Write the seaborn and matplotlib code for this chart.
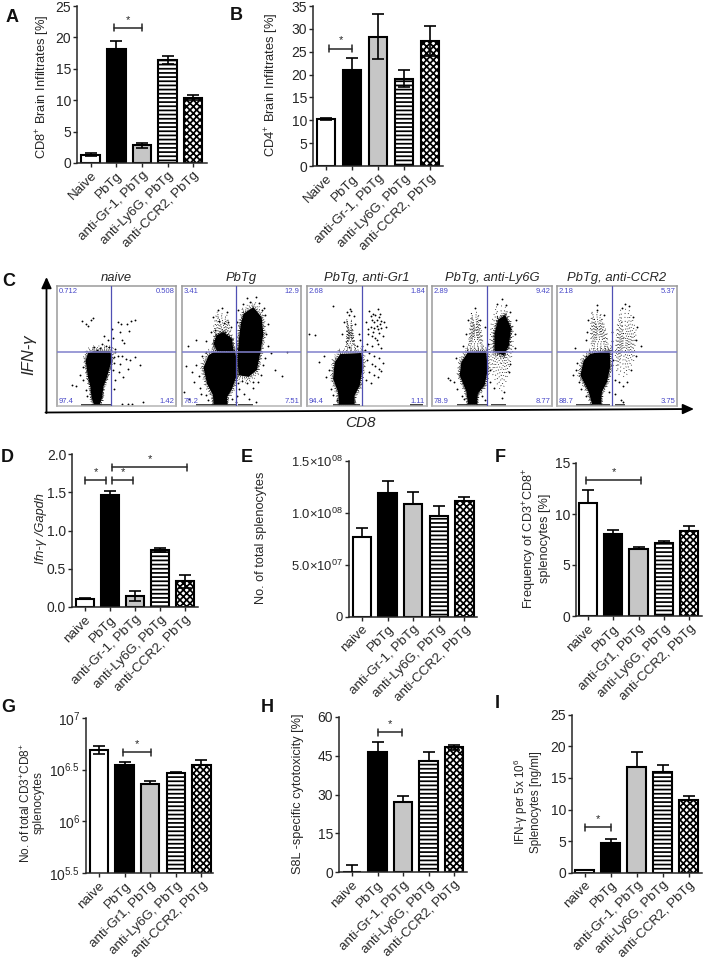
import matplotlib
matplotlib.use("Agg")
import matplotlib.pyplot as plt
import seaborn as sns
import pandas as pd

# ---------- data ----------
GROUPS_A = ["Naive", "PbTg", "anti-Gr-1, PbTg", "anti-Ly6G, PbTg", "anti-CCR2, PbTg"]
GROUPS_D = ["naive", "PbTg", "anti-Gr-1, PbTg", "anti-Ly6G, PbTg", "anti-CCR2, PbTg"]
GROUPS_F = ["naive", "PbTg", "anti-Gr1, PbTg", "anti-Ly6G, PbTg", "anti-CCR2, PbTg"]

a_val = [1.3, 18.1, 2.8, 16.4, 10.4]
a_up = [1.55, 19.4, 3.2, 17.05, 10.9]
a_lo = [1.1, 18.1, 2.4, 15.8, 10.0]
b_val = [10.3, 21.0, 28.3, 19.0, 27.3]
b_up = [10.5, 23.6, 33.2, 20.9, 30.7]
b_lo = [10.1, 18.6, 23.3, 17.2, 24.0]
d_val = [0.11, 1.46, 0.15, 0.745, 0.34]
d_up = [0.12, 1.52, 0.21, 0.775, 0.42]
d_lo = [0.10, 1.40, 0.08, 0.715, 0.25]
e_val = [7.7e7, 1.19e8, 1.09e8, 9.7e7, 1.11e8]
e_up = [8.5e7, 1.31e8, 1.20e8, 1.07e8, 1.15e8]
f_val = [11.1, 8.0, 6.6, 7.2, 8.3]
f_up = [12.4, 8.4, 6.8, 7.4, 8.8]
g_val = [6.69, 6.545, 6.36, 6.47, 6.545]
g_up = [6.73, 6.575, 6.39, 6.48, 6.59]
g_lo = [6.65, 6.545, 6.36, 6.47, 6.545]
h_val = [0.3, 46.6, 27.3, 43.0, 48.3]
h_up = [2.8, 50.3, 29.6, 46.6, 49.2]
h_lo = [-2.2, 46.6, 27.3, 43.0, 47.4]
i_val = [0.35, 4.64, 16.67, 15.9, 11.5]
i_up = [0.4, 5.27, 19.15, 17.1, 12.1]

flow_titles = ["naive", "PbTg", "PbTg, anti-Gr1", "PbTg, anti-Ly6G", "PbTg, anti-CCR2"]
flow_gates = [["0.712", "0.508", "97.4", "1.42"],
              ["3.41", "12.9", "76.2", "7.51"],
              ["2.68", "1.84", "94.4", "1.11"],
              ["2.89", "9.42", "78.9", "8.77"],
              ["2.18", "5.37", "88.7", "3.75"]]

# gated clouds (CD8 %, IFN-g %)
naive_core = [[(31, 46), (45, 46), (46, 38), (42, 24), (39, 16), (38, 7), (36, 1), (31, 1), (29, 7), (28, 16), (26, 24), (24, 38), (26, 44)]]
naive_soft = []
naive_pts = [(21, 70.5), (24.6, 68.6), (28.6, 71.4), (30, 73.6), (25.8, 66.7), (51, 70), (53.8, 68.6), (58.8, 68.6), (62, 70.5), (65.8, 71.4),
             (60.5, 62.5), (53, 62), (54.6, 54.7), (56.6, 52.5), (46, 64.4), (39.2, 58), (42.6, 54.7), (30.8, 49), (33.6, 47), (36.4, 48.6),
             (41.5, 49.7), (49, 47.8), (51, 42), (54.6, 42), (58, 39.4), (61.6, 38), (65.8, 40.8), (53, 35), (59.4, 31), (69.5, 34.4),
             (52, 28), (55.6, 24), (49, 21.4), (47.6, 14.4), (12.6, 17.2), (16, 16.4), (19.6, 25.6), (21.8, 32.5), (22, 22), (24, 13),
             (25, 8), (47.5, 41), (48, 36), (47, 30), (49, 45), (44, 49), (38, 52), (47, 57), (72, 3), (55, 2), (60, 2), (63, 2)]
naive_base = [(20, 46)]

pbtg_core = [[(26.5, 45), (44.7, 45.5), (46, 38), (45.5, 24), (42, 14), (38, 7.5), (38, 0.5), (26.5, 0.5), (26, 9), (21, 18.5), (18, 32), (22.4, 42.5)],
             [(51.7, 77), (60, 82.5), (67, 74), (68.4, 60), (66, 45), (63, 30), (56, 24.2), (47.5, 25.6), (46.6, 41), (48, 57.5), (49.4, 69)],
             [(29, 59), (35, 61.6), (42, 56), (43.3, 45.8), (29.3, 45.8), (26.5, 52)]]
pbtg_soft = [[(29.3, 78.3), (37.7, 75.6), (43.3, 54.7), (43.3, 45.8), (26.5, 45.8), (26.5, 66)]]
pbtg_pts = [(55, 90), (62, 91), (57, 87), (65, 86), (51, 85), (69, 82), (67, 80), (70, 76), (47, 80), (72, 68),
            (71, 60), (72, 50), (70, 40), (68, 34), (66, 26), (60, 20), (55, 19), (64, 20), (50, 21), (75, 44),
            (78, 30), (84, 25), (88, 45), (60, 15), (48, 14), (52, 10), (56, 6), (62, 3), (12, 34), (14, 25),
            (15, 15), (10, 20), (8, 28), (3, 33), (5, 50), (12, 55), (20, 54), (24, 62), (26, 74), (30, 80),
            (34, 82), (38, 78), (46, 70), (20, 45), (17, 42), (16, 10), (20, 9), (22, 5), (42, 6), (45, 3),
            (46, 8), (49, 32), (47, 19), (2, 12), (6, 6), (31, 71), (35, 69), (28, 63), (41, 66), (39, 70)]
pbtg_base = [(12, 46), (47, 60)]

gr1_core = [[(27.8, 43.4), (45.3, 44.2), (46.7, 33.7), (44, 17), (39.7, 8.8), (39.7, 1), (26.7, 1), (25.8, 11.6), (21.7, 22.7), (23, 36.5)]]
gr1_soft = [[(33, 72), (37, 72), (39, 58), (41, 46), (32, 46), (33, 58)]]
gr1_pts = [(22, 83), (33, 78), (36, 81), (35, 76), (37, 79), (39, 75), (31, 70), (40, 68), (29, 60), (43, 60),
           (52, 79), (54, 72), (57, 76), (60, 74), (64, 70), (56, 70), (59, 81), (61, 77), (58, 67), (62, 65),
           (49, 70), (53, 66), (55, 62), (60, 61), (63, 58), (51, 60), (57, 57), (66, 66), (50, 52), (54, 50),
           (59, 52), (62, 48), (48, 47), (52, 44), (56, 42), (60, 40), (63, 36), (50, 38), (54, 35), (57, 33),
           (60, 31), (62, 29), (52, 28), (56, 26), (59, 24), (49, 22), (53, 19), (18, 30), (16, 24), (14, 42),
           (20, 14), (22, 9), (25, 5), (7, 59), (2, 60), (10, 37), (42, 50), (46, 50), (44, 55), (35, 49),
           (55, 77), (58, 72), (62, 71), (53, 75), (51, 64), (59, 64), (56, 65), (61, 68), (54, 58), (58, 55)]
gr1_base = [(22, 44), (86, 97)]

ly6g_core = [[(30, 45), (45.3, 45.8), (46.4, 29.7), (43.9, 17.2), (38.3, 10.3), (37.5, 1.4), (30, 1.4), (28.6, 11.9), (23, 25.6), (24.4, 36.7)],
             [(55, 72), (61, 76), (66, 65), (64, 50), (60, 42), (52, 45), (52, 60)]]
ly6g_soft = [[(53.6, 82.5), (60.6, 83.9), (67.5, 65.8), (67.5, 46.4), (62, 21.4), (57.8, 11.7), (50.8, 25.6), (47.5, 43.6), (49.4, 68.6)],
             [(32.8, 77), (38.3, 78.3), (42, 57.5), (42.5, 46.4), (30, 46.4), (31.4, 63)]]
ly6g_pts = [(58, 89), (54, 85), (62, 84), (65, 78), (70, 72), (69, 60), (69, 48), (65, 35), (60, 12), (58, 7),
            (52, 15), (48, 20), (30, 72), (28, 60), (26, 50), (20, 40), (15, 22), (18, 20), (13, 23), (36, 82),
            (40, 72), (44, 66), (47, 52), (21, 14), (25, 8), (27, 6), (42, 8), (44, 5), (48, 30), (64, 28)]
ly6g_base = [(21, 46), (49, 62)]

ccr2_core = [[(27.8, 43.6), (44, 46.4), (44.4, 32.5), (41.7, 20), (37.5, 11.7), (36.7, 1.4), (29.2, 1.4), (26.4, 11.7), (19.4, 25.6), (22.2, 38)]]
ccr2_soft = [[(52.8, 79.7), (59.7, 81), (66, 63), (63.9, 38), (57, 24), (50, 27), (48.6, 43.6), (50, 65.8)],
             [(29, 78), (36, 78), (41.7, 60), (43, 46), (29, 46), (27.8, 63)]]
ccr2_pts = [(57, 85), (54, 82), (60, 83), (63, 74), (67, 66), (66, 55), (66, 42), (62, 30), (58, 20), (55, 17),
            (52, 20), (48, 22), (26, 72), (25, 62), (24, 55), (15, 48), (16, 30), (18, 20), (13, 26), (33, 80),
            (39, 76), (46, 62), (46, 54), (20, 14), (24, 8), (43, 12), (48, 10), (53, 5), (55, 3), (46, 34),
            (47, 38), (70, 50), (33, 84), (17, 36), (24, 42)]
ccr2_base = [(16, 44), (48, 57)]

flow_cores = [naive_core, pbtg_core, gr1_core, ly6g_core, ccr2_core]
flow_softs = [naive_soft, pbtg_soft, gr1_soft, ly6g_soft, ccr2_soft]
flow_points = [naive_pts, pbtg_pts, gr1_pts, ly6g_pts, ccr2_pts]
flow_bases = [naive_base, pbtg_base, gr1_base, ly6g_base, ccr2_base]
flow_boxes = [(57, 176), (182, 301), (307, 427), (432, 552), (557, 677)]

# ---------- style ----------
W, H = 704, 959
sns.set_theme(style="ticks")
plt.rcParams["font.family"] = ["Liberation Sans", "DejaVu Sans"]
plt.rcParams["mathtext.fontset"] = "custom"
plt.rcParams["mathtext.rm"] = "Liberation Sans"
plt.rcParams["mathtext.it"] = "Liberation Sans:italic"
plt.rcParams["mathtext.default"] = "regular"
plt.rcParams["hatch.linewidth"] = 1.25
INK = "#262626"
GREY = "#c6c6c6"
BLUE = "#4848c8"

fig = plt.figure(figsize=(W / 100, H / 100), dpi=100, facecolor="white")


def px_axes(left, right, top, bottom, **kw):
    return fig.add_axes([left / W, 1 - bottom / H, (right - left) / W, (bottom - top) / H], **kw)


def bar_panel(box, c0, step, labels, values, upper, lower, ylim, yticks, yticklabels,
              brackets=(), ytick_size=10):
    ax = px_axes(*box)
    frame = pd.DataFrame({"group": labels, "value": values})
    sns.barplot(data=frame, x="group", y="value", color="white", width=0.72, errorbar=None,
                edgecolor="black", linewidth=1.5, ax=ax)
    styles = [("white", None), ("black", None), (GREY, None), ("white", "----"), ("white", "xxxxx")]
    for patch, (face, hatch) in zip(ax.patches, styles):
        patch.set_facecolor(face)
        patch.set_edgecolor("black")
        if hatch:
            patch.set_hatch(hatch)
    lo = lower if lower is not None else values
    err = [[v - l for v, l in zip(values, lo)], [u - v for v, u in zip(values, upper)]]
    ax.errorbar(range(5), values, yerr=err, fmt="none", ecolor="black", elinewidth=1.2,
                capsize=4.6, capthick=1.2, zorder=5)
    ax.set_xlim((box[0] - c0) / step, (box[1] - c0) / step)
    ax.set_ylim(*ylim)
    ax.set_yticks(yticks)
    ax.set_yticklabels(yticklabels, fontsize=ytick_size, color=INK)
    ax.set_xlabel("")
    ax.set_ylabel("")
    ax.tick_params(axis="x", length=3.2, width=1, pad=1.5, labelsize=9.6, labelcolor=INK, color=INK)
    ax.tick_params(axis="y", length=3.2, width=1, pad=1, color=INK)
    plt.setp(ax.get_xticklabels(), rotation=45, ha="right", rotation_mode="anchor")
    for side in ("top", "right"):
        ax.spines[side].set_visible(False)
    for side in ("left", "bottom"):
        ax.spines[side].set_linewidth(1.1)
        ax.spines[side].set_color(INK)
    ax.patch.set_alpha(0)
    for x0, x1, y in brackets:
        trans = ax.get_xaxis_transform()
        yfrac = (y - ylim[0]) / (ylim[1] - ylim[0])
        tip = 3.5 / (box[3] - box[2])
        ax.plot([x0, x1], [yfrac, yfrac], color=INK, lw=1.1, transform=trans, clip_on=False)
        ax.plot([x0, x0], [yfrac - tip, yfrac + tip], color=INK, lw=1.1, transform=trans, clip_on=False)
        ax.plot([x1, x1], [yfrac - tip, yfrac + tip], color=INK, lw=1.1, transform=trans, clip_on=False)
        ax.text((x0 + x1) / 2, yfrac + 3.0 / (box[3] - box[2]), "*", transform=trans, ha="center", va="bottom",
                fontsize=8, color=INK)
    return ax


bar_panel((77, 207, 6, 163), 90.7, 25.6, GROUPS_A, a_val, a_up, a_lo, (0, 25), [0, 5, 10, 15, 20, 25],
          ["0", "5", "10", "15", "20", "25"], brackets=[(0.91, 2.0, 21.5)])
bar_panel((313, 443, 6, 166), 326, 26, GROUPS_A, b_val, b_up, b_lo, (0, 35), [0, 5, 10, 15, 20, 25, 30, 35],
          ["0", "5", "10", "15", "20", "25", "30", "35"], brackets=[(0.12, 1.0, 25.7)])
bar_panel((72, 198, 454, 607), 85, 25, GROUPS_D, d_val, d_up, d_lo, (0, 2), [0, 0.5, 1, 1.5, 2],
          ["0.0", "0.5", "1.0", "1.5", "2.0"],
          brackets=[(0.0, 0.84, 1.655), (1.08, 1.92, 1.655), (1.08, 4.08, 1.825)])
bar_panel((349, 477, 461, 616.5), 362, 25.6, GROUPS_D, e_val, e_up, None, (0, 1.5e8), [0, 5e7, 1e8, 1.5e8],
          ["0", "5.0×10$^{07}$", "1.0×10$^{08}$", "1.5×10$^{08}$"], ytick_size=9.4)
bar_panel((576, 702, 463, 616), 588, 25.3, GROUPS_F, f_val, f_up, None, (0, 15), [0, 5, 10, 15],
          ["0", "5", "10", "15"], brackets=[(-0.08, 2.1, 13.3)])
bar_panel((86, 213, 718, 873), 99, 25.6, GROUPS_F, g_val, g_up, g_lo, (5.5, 7), [5.5, 6, 6.5, 7],
          ["10$^{5.5}$", "10$^{6}$", "10$^{6.5}$", "10$^{7}$"], brackets=[(0.92, 2.03, 6.67)])
bar_panel((339, 467, 717, 872.3), 352, 25.5, GROUPS_D, h_val, h_up, h_lo, (0, 60), [0, 15, 30, 45, 60],
          ["0", "15", "30", "45", "60"], brackets=[(1.0, 1.97, 54.1)])
bar_panel((572, 702, 714.7, 872.7), 584.7, 26, GROUPS_D, i_val, i_up, None, (0, 25), [0, 5, 10, 15, 20, 25],
          ["0", "5", "10", "15", "20", "25"], brackets=[(0.0, 1.0, 7.17)])

# ---------- flow cytometry row ----------
SOFT_RINGS = [(1.0, (0.6, 4.3)), (0.88, (0.7, 3.1)), (0.76, (0.6, 2.7)), (0.64, (0.7, 2.3)),
              (0.52, (0.6, 2.0)), (0.4, (0.7, 1.9)), (0.28, (0.7, 1.7)), (0.16, (0.7, 1.5))]
CORE_RINGS = [(1.03, (0.7, 1.3)), (1.07, (0.6, 1.9)), (1.12, (0.6, 2.9)), (1.18, (0.5, 4.7))]


def ring(ax, xs, ys, cx, cy, scale, dash):
    ax.plot([cx + (x - cx) * scale for x in xs], [cy + (y - cy) * scale for y in ys],
            color="black", lw=0.75, ls=(0, dash))


for k, (x0, x1) in enumerate(flow_boxes):
    ax = px_axes(x0, x1, 286, 406)
    ax.set_xlim(0, 100)
    ax.set_ylim(0, 100)
    ax.set_xticks([])
    ax.set_yticks([])
    for s, spine in ax.spines.items():
        spine.set_color("#9a9a9a" if s != "bottom" else "#b4b4b4")
        spine.set_linewidth(1.1)
    for poly in flow_softs[k]:
        xs = [p[0] for p in poly] + [poly[0][0]]
        ys = [p[1] for p in poly] + [poly[0][1]]
        cx, cy = sum(xs[:-1]) / len(poly), sum(ys[:-1]) / len(poly)
        for scale, dash in SOFT_RINGS:
            ring(ax, xs, ys, cx, cy, scale, dash)
    for poly in flow_cores[k]:
        xs = [p[0] for p in poly] + [poly[0][0]]
        ys = [p[1] for p in poly] + [poly[0][1]]
        cx, cy = sum(xs[:-1]) / len(poly), sum(ys[:-1]) / len(poly)
        ax.fill(xs, ys, color="black", lw=0)
        for scale, dash in CORE_RINGS:
            ring(ax, xs, ys, cx, cy, scale, dash)
    pts = pd.DataFrame(flow_points[k], columns=["cd8", "ifn"])
    sns.scatterplot(data=pts, x="cd8", y="ifn", s=1.8, color="black", linewidth=0, ax=ax)
    ax.set_xlabel("")
    ax.set_ylabel("")
    for a, b in flow_bases[k]:
        ax.plot([a, b], [1, 1], color="#222222", lw=1.2, solid_capstyle="butt")
    ax.axvline(45.5, color="#5050b4", lw=0.9, zorder=6)
    ax.axhline(45.2, color="#8080cc", lw=1.1, zorder=6)
    g = flow_gates[k]
    style = dict(color=BLUE, fontsize=5.5, zorder=7)
    ax.text(1.5, 95.5, g[0], ha="left", va="center", **style)
    ax.text(98.5, 95.5, g[1], ha="right", va="center", **style)
    ax.text(1.5, 3.5, g[2], ha="left", va="center", **style)
    ax.text(98.5, 3.5, g[3], ha="right", va="center", **style)
    ax.text(50, 101.5, flow_titles[k], ha="center", va="bottom", fontsize=9.4, style="italic", color=INK)

# ---------- free labels, pixel overlay ----------
ov = fig.add_axes([0, 0, 1, 1], zorder=20)
ov.set_xlim(0, W)
ov.set_ylim(H, 0)
ov.axis("off")
ov.patch.set_alpha(0)

letter_names = ["A", "B", "C", "D", "E", "F", "G", "H", "I"]
letter_x = [12, 236, 9, 7, 247, 500, 8, 267, 497]
letter_y = [17, 16, 282, 458, 457, 457, 707, 707, 703]
for name, x, y in zip(letter_names, letter_x, letter_y):
    ov.text(x, y, name, fontsize=13, fontweight="bold", ha="center", va="center", color="#111111")

ylabels = [("CD8$^{+}$ Brain Infiltrates [%]", 43, 87, 9.3, "normal"),
           ("CD4$^{+}$ Brain Infiltrates [%]", 272, 85, 9.3, "normal"),
           ("Ifn-γ /Gapdh", 41, 529, 9.3, "italic"),
           ("No. of total splenocytes", 261, 538, 9.2, "normal"),
           ("Frequency of CD3$^{+}$CD8$^{+}$\nsplenocytes [%]", 536, 538, 9.2, "normal"),
           ("No. of total CD3$^{+}$CD8$^{+}$\nsplenocytes", 32, 803, 8.6, "normal"),
           ("S8L -specific cytotoxicity [%]", 298, 794, 9.2, "normal"),
           ("IFN-γ per 5x 10$^{6}$\nSplenocytes [ng/ml]", 527, 802, 8.4, "normal")]
for text, x, y, size, sty in ylabels:
    ov.text(x, y, text, rotation=90, ha="center", va="center", fontsize=size, style=sty, color=INK,
            linespacing=1.0, multialignment="center")

ov.text(29, 355, "IFN-γ", rotation=90, ha="center", va="center", fontsize=12, style="italic", color=INK)
ov.text(360, 423, "CD8", ha="center", va="center", fontsize=11, style="italic", color=INK)
arrow = dict(arrowstyle="-|>,head_width=0.25,head_length=0.55", color="black", lw=1.3, shrinkA=0, shrinkB=0)
ov.annotate("", xy=(46.5, 277), xytext=(46.5, 413), arrowprops=arrow)
ov.annotate("", xy=(694, 409), xytext=(45.5, 412.5), arrowprops=arrow)

fig.savefig("out.png", dpi=100, facecolor="white")
